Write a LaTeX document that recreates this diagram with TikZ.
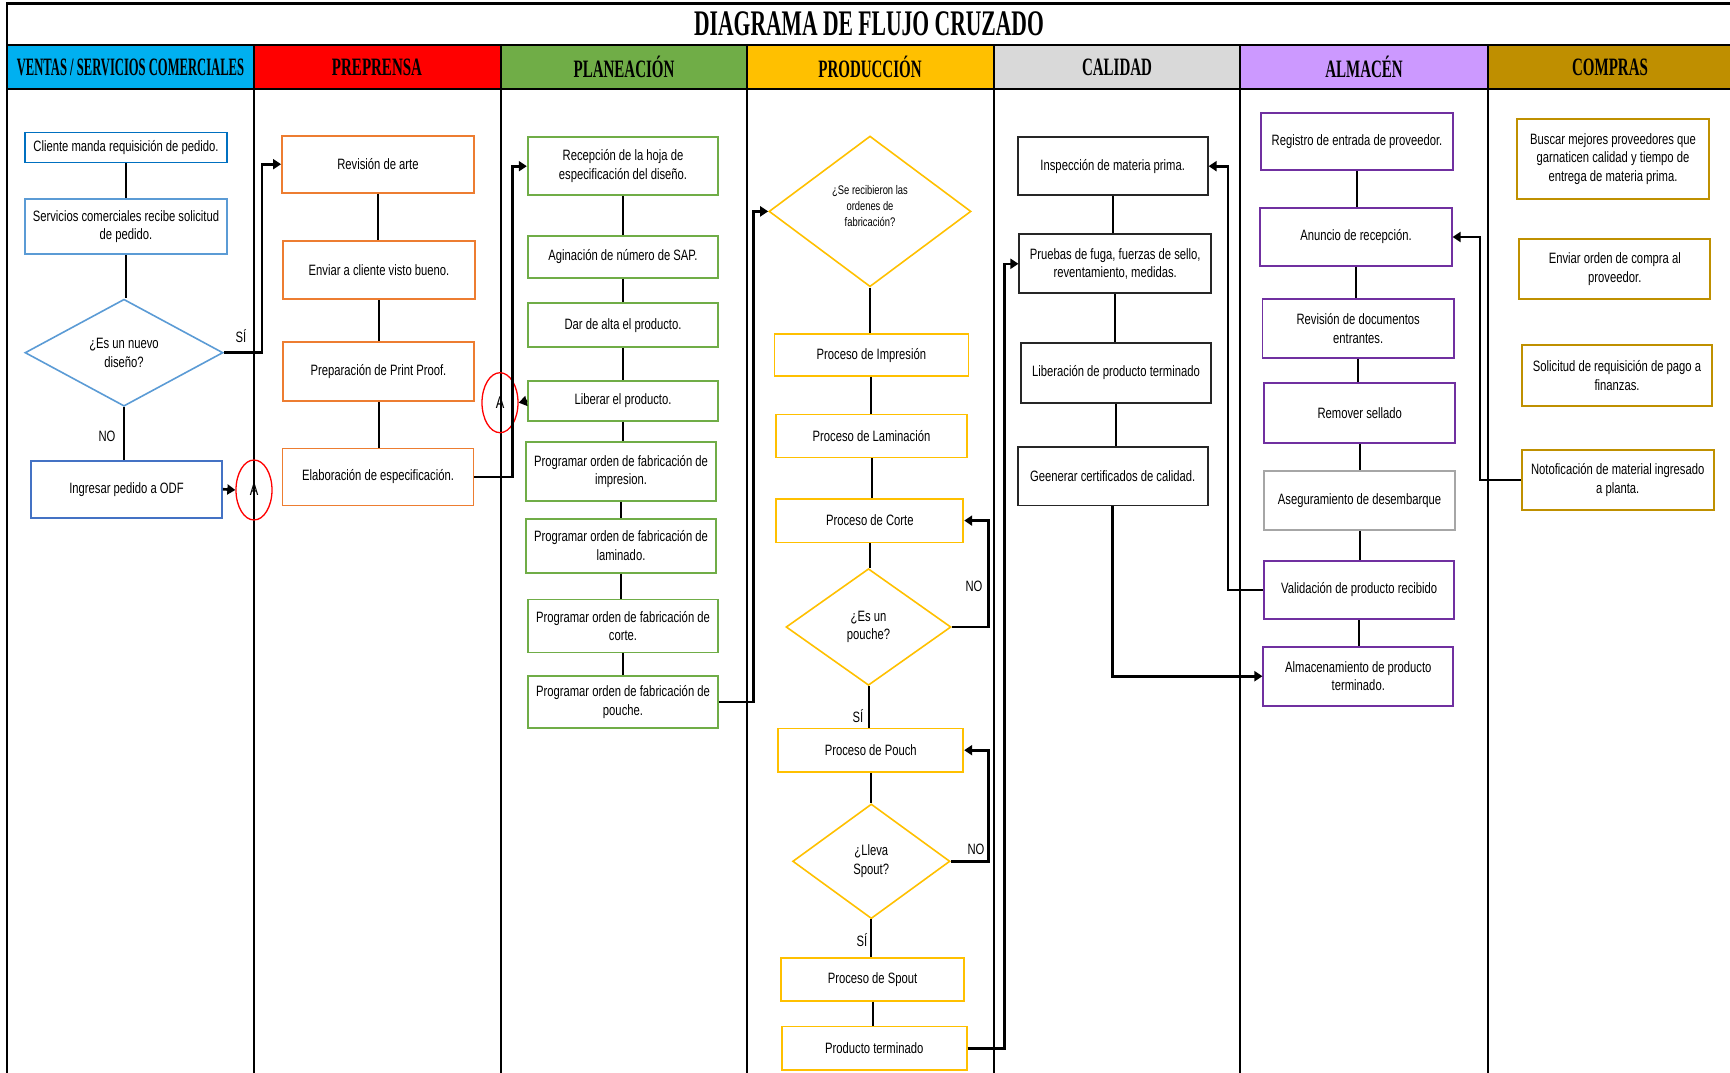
\documentclass[tikz,border=0pt]{standalone}
\usepackage{fontspec}
\setmainfont{Liberation Sans}[FakeStretch=0.75]
\newfontfamily\headfont{Liberation Serif}[FakeStretch=0.6]
\usetikzlibrary{shapes.geometric,arrows.meta}

% lane header colours
\definecolor{hVentas}{HTML}{00B0F0}
\definecolor{hPre}{HTML}{FF0000}
\definecolor{hPlan}{HTML}{70AD47}
\definecolor{hProd}{HTML}{FFC000}
\definecolor{hCal}{HTML}{D9D9D9}
\definecolor{hAlm}{HTML}{CC99FF}
\definecolor{hComp}{HTML}{BF8F00}
% box border colours
\definecolor{bBlue}{HTML}{0070C0}
\definecolor{bLightBlue}{HTML}{5B9BD5}
\definecolor{bMidBlue}{HTML}{4472C4}
\definecolor{bOrange}{HTML}{ED7D31}
\definecolor{bGreen}{HTML}{70AD47}
\definecolor{bGold}{HTML}{FFC000}
\definecolor{bPurple}{HTML}{7030A0}
\definecolor{bGray}{HTML}{A6A6A6}
\definecolor{bCompras}{HTML}{BF9000}
\definecolor{bBlack}{HTML}{262626}

\newcommand\bxfont{\fontsize{15}{18.5}\selectfont}

\begin{document}
\begin{tikzpicture}[x=1pt,y=-1pt,
  frame/.style={line width=2.4pt, black},
  lane/.style={line width=2pt, black},
  hdr/.style={font=\headfont\bfseries\fontsize{25}{28}\selectfont, inner sep=0pt},
  box/.style={draw, line width=1.8pt, rectangle, inner sep=1pt, align=center, font=\bxfont},
  dec/.style={draw, line width=1.6pt, shape=diamond, inner sep=0pt, align=center, font=\bxfont},
  conn/.style={ellipse, draw=red, line width=1.3pt, minimum width=36pt, minimum height=60pt, inner sep=0pt, font=\fontsize{17}{17}\selectfont},
  lnk/.style={line width=2pt, black},
  arr/.style={line width=2.6pt, black, -{Triangle[length=8pt,width=10pt]}},
  lbl/.style={font=\fontsize{15}{15}\selectfont, inner sep=0pt}
]
\useasboundingbox (0,0) rectangle (1730,1073);

% ---- title and lane headers ----
\node[font=\headfont\bfseries\fontsize{36}{40}\selectfont, inner sep=0pt] (title) at (869,24) {DIAGRAMA DE FLUJO CRUZADO};

\fill[hVentas] (7,45) rectangle (254,89);
\fill[hPre] (254,45) rectangle (500.5,89);
\fill[hPlan] (500.5,45) rectangle (747,89);
\fill[hProd] (747,45) rectangle (993.5,89);
\fill[hCal] (993.5,45) rectangle (1240,89);
\fill[hAlm] (1240,45) rectangle (1488,89);
\fill[hComp] (1488,45) rectangle (1730,89);

\node[hdr] (hv) at (130.5,67) {\scalebox{0.84}[1]{VENTAS / SERVICIOS COMERCIALES}};
\node[hdr] (hp) at (377,67) {PREPRENSA};
\node[hdr] (hl) at (624,67) {PLANEACIÓN};
\node[hdr] (hr) at (870,67) {PRODUCCIÓN};
\node[hdr] (hc) at (1117,67) {CALIDAD};
\node[hdr] (ha) at (1364,67) {ALMACÉN};
\node[hdr] (hm) at (1610,67) {COMPRAS};

\draw[frame] (7,3.5) -- (1730,3.5);
\draw[frame] (7,2.3) -- (7,1073);
\draw[frame] (7,45) -- (1730,45);
\draw[frame] (7,89) -- (1730,89);
\foreach \x in {254,500.5,747,993.5,1240,1488}
  \draw[lane] (\x,45) -- (\x,1073);

% ---- ventas / servicios comerciales ----
\node[box, draw=bBlue, minimum width=202pt, minimum height=30pt] (c1) at (126,147.5) {Cliente manda requisición de pedido.};
\node[box, draw=bLightBlue, minimum width=202pt, minimum height=55pt] (c2) at (126,226.7) {Servicios comerciales recibe solicitud\\de pedido.};
\node[dec, draw=bLightBlue, minimum width=198pt, minimum height=107pt] (d1) at (124,352.7) {¿Es un nuevo\\diseño?};
\node[box, draw=bMidBlue, minimum width=191pt, minimum height=57pt] (c3) at (126.5,489.2) {Ingresar pedido a ODF};
\node[conn] (A1) at (254,490) {A};

% ---- preprensa ----
\node[box, draw=bOrange, minimum width=192pt, minimum height=57pt] (p1) at (378,164.2) {Revisión de arte};
\node[box, draw=bOrange, minimum width=192pt, minimum height=58.6pt] (p2) at (379,270) {Enviar a cliente visto bueno.};
\node[box, draw=bOrange, minimum width=191pt, minimum height=59pt] (p3) at (378.5,371.5) {Preparación de Print Proof.};
\node[box, draw=bOrange, minimum width=191pt, minimum height=57pt] (p4) at (378,477) {Elaboración de especificación.};
\node[conn] (A2) at (500,402.7) {A};

% ---- planeacion ----
\node[box, draw=bGreen, minimum width=190.6pt, minimum height=57.7pt] (g1) at (623,166.2) {Recepción de la hoja de\\especificación del diseño.};
\node[box, draw=bGreen, minimum width=190pt, minimum height=41.7pt] (g2) at (623,256.8) {Aginación de número de SAP.};
\node[box, draw=bGreen, minimum width=190pt, minimum height=43.7pt] (g3) at (623,325.2) {Dar de alta el producto.};
\node[box, draw=bGreen, minimum width=190pt, minimum height=40.3pt] (g4) at (623,400.8) {Liberar el producto.};
\node[box, draw=bGreen, minimum width=190pt, minimum height=59pt] (g5) at (621,471.5) {Programar orden de fabricación de\\impresion.};
\node[box, draw=bGreen, minimum width=190pt, minimum height=54pt] (g6) at (621,545.6) {Programar orden de fabricación de\\laminado.};
\node[box, draw=bGreen, minimum width=190pt, minimum height=53pt] (g7) at (623,626) {Programar orden de fabricación de\\corte.};
\node[box, draw=bGreen, minimum width=190pt, minimum height=52pt] (g8) at (623,702) {Programar orden de fabricación de\\pouche.};

% ---- produccion ----
\node[dec, draw=bGold, minimum width=202pt, minimum height=150.7pt] (y1) at (870,211.4) {};
\node[font=\fontsize{12.5}{16}\selectfont, align=center, inner sep=0pt] (y1txt) at (870,206.5) {¿Se recibieron las\\ordenes de\\fabricación?};
\node[box, draw=bGold, minimum width=194pt, minimum height=41.7pt] (y2) at (871.4,355.2) {Proceso de Impresión};
\node[box, draw=bGold, minimum width=190.4pt, minimum height=43pt] (y3) at (871.5,436) {Proceso de Laminación};
\node[box, draw=bGold, minimum width=187pt, minimum height=43.6pt] (y4) at (869.8,520.6) {Proceso de Corte};
\node[dec, draw=bGold, minimum width=165pt, minimum height=116.7pt] (y5) at (868.5,627) {¿Es un\\pouche?};
\node[box, draw=bGold, minimum width=185pt, minimum height=43.5pt] (y6) at (870.8,750.2) {Proceso de Pouch};
\node[dec, draw=bGold, minimum width=157.3pt, minimum height=114.7pt] (y7) at (871.3,861.3) {¿Lleva\\Spout?};
\node[box, draw=bGold, minimum width=183.6pt, minimum height=43pt] (y8) at (872.5,979.2) {Proceso de Spout};
\node[box, draw=bGold, minimum width=185pt, minimum height=43.5pt] (y9) at (874.2,1048.2) {Producto terminado};

% ---- calidad ----
\node[box, draw=bBlack, minimum width=190pt, minimum height=57.7pt] (q1) at (1112.7,166.2) {Inspección de materia prima.};
\node[box, draw=bBlack, minimum width=191.7pt, minimum height=59pt] (q2) at (1115.2,263.8) {Pruebas de fuga, fuerzas de sello,\\reventamiento, medidas.};
\node[box, draw=bBlack, minimum width=190pt, minimum height=59.4pt] (q3) at (1116,373) {Liberación de producto terminado};
\node[box, draw=bBlack, minimum width=190pt, minimum height=58.8pt] (q4) at (1112.7,476.1) {Geenerar certificados de calidad.};

% ---- almacen ----
\node[box, draw=bPurple, minimum width=192pt, minimum height=57.3pt] (a1) at (1357,141.3) {Registro de entrada de proveedor.};
\node[box, draw=bPurple, minimum width=191.4pt, minimum height=57.4pt] (a2) at (1356,237) {Anuncio de recepción.};
\node[box, draw=bPurple, minimum width=191.5pt, minimum height=58.7pt] (a3) at (1358.2,328.3) {Revisión de documentos\\entrantes.};
\node[box, draw=bPurple, minimum width=191pt, minimum height=59.4pt] (a4) at (1359.8,413) {Remover sellado};
\node[box, draw=bGray, minimum width=191pt, minimum height=59pt] (a5) at (1359.5,500.5) {Aseguramiento de desembarque};
\node[box, draw=bPurple, minimum width=190.3pt, minimum height=58.6pt] (a6) at (1359.2,590) {Validación de producto recibido};
\node[box, draw=bPurple, minimum width=190pt, minimum height=59pt] (a7) at (1358.3,676.2) {Almacenamiento de producto\\terminado.};

% ---- compras ----
\node[box, draw=bCompras, minimum width=192pt, minimum height=80pt] (b1) at (1613,159) {Buscar mejores proveedores que\\garnaticen calidad y tiempo de\\entrega de materia prima.};
\node[box, draw=bCompras, minimum width=191pt, minimum height=60.3pt] (b2) at (1614.8,269.2) {Enviar orden de compra al\\proveedor.};
\node[box, draw=bCompras, minimum width=190.4pt, minimum height=60.7pt] (b3) at (1617,375.3) {Solicitud de requisición de pago a\\finanzas.};
\node[box, draw=bCompras, minimum width=191.8pt, minimum height=60pt] (b4) at (1617.7,480) {Notoficación de material ingresado\\a planta.};

% ---- sequence links within each lane ----
\foreach \s/\t in {c1/c2, c2/d1, d1/c3, p1/p2, p2/p3, p3/p4,
                   g1/g2, g2/g3, g3/g4, g4/g5, g5/g6, g6/g7, g7/g8,
                   y1/y2, y2/y3, y3/y4, y4/y5, y5/y6, y6/y7, y7/y8, y8/y9,
                   q1/q2, q2/q3, q3/q4,
                   a1/a2, a2/a3, a3/a4, a4/a5, a5/a6, a6/a7}
  \draw[lnk] (\s.south) -- (\s.south |- \t.north);

% ---- flow between lanes ----
\draw[arr] (d1.east) -- ++(38,0) |- (p1.west);
\draw[arr] (c3.east) -- (A1.west);
\draw[arr] (p4.east) -- ++(38.2,0) |- (g1.west);
\draw[arr] (g4.west) -- (A2.east);
\draw[arr] (g8.east) -- ++(34.7,0) |- (y1.west);
\draw[arr] (y5.east) -- ++(36.7,0) |- (y4.east);
\draw[arr] (y7.east) -- ++(37.7,0) |- (y6.east);
\draw[arr] (y9.east) -- ++(36.6,0) |- (q2.west);
\draw[arr] (q4.south) |- (a7.west);
\draw[arr] (a6.west) -- ++(-35.3,0) |- (q1.east);
\draw[arr] (b4.west) -- ++(-40.8,0) |- (a2.east);

% ---- branch labels ----
\node[lbl] (lsi1) at (241,336) {SÍ};
\node[lbl] (lno1) at (107,436) {NO};
\node[lbl] (lno2) at (974,586) {NO};
\node[lbl] (lsi2) at (858,716) {SÍ};
\node[lbl] (lno3) at (976,849) {NO};
\node[lbl] (lsi3) at (862,940) {SÍ};
\end{tikzpicture}
\end{document}
